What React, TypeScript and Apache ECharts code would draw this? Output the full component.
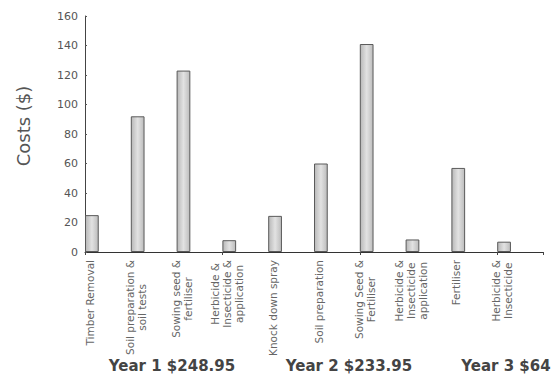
import React, { useEffect, useRef } from "react";
import * as echarts from "echarts";

// Cost items per activity, in order across the three years
const categories: string[] = [
  "Timber Removal",
  "Soil preparation &\nsoil tests",
  "Sowing seed &\nfertiliser",
  "Herbicide &\nInsecticide &\napplication",
  "Knock down spray",
  "Soil preparation",
  "Sowing Seed &\nFertiliser",
  "Herbicide &\nInsecticide\napplication",
  "Fertiliser",
  "Herbicide &\nInsecticide",
];

const costs: number[] = [25, 92, 123, 8, 24.5, 60, 141, 8.5, 57, 7];

const yTicks = { min: 0, max: 160, interval: 20 };

const yearLabels: string[] = ["Year 1 $248.95", "Year 2 $233.95", "Year 3 $64"];

const FONT = "DejaVu Sans";

export default function App() {
  const ref = useRef<HTMLDivElement>(null);

  useEffect(() => {
    if (!ref.current) return;
    const chart = echarts.init(ref.current, undefined, { renderer: "svg" });

    const barFill = new echarts.graphic.LinearGradient(0, 0, 1, 0, [
      { offset: 0, color: "#b8b8b8" },
      { offset: 0.5, color: "#e2e2e2" },
      { offset: 1, color: "#bcbcbc" },
    ]);

    const yearPos = [172, 349, 506];

    chart.setOption({
      animation: false,
      backgroundColor: "#ffffff",
      grid: [
        { left: 85, right: 13, top: 16, bottom: 127 },
        // label grid, shifted so the category names sit under the bars
        { left: 67, right: 31, top: 16, bottom: 127 },
      ],
      xAxis: [
        {
          type: "category",
          gridIndex: 0,
          data: categories,
          boundaryGap: true,
          axisLine: { lineStyle: { color: "#333", width: 1 } },
          axisTick: { show: true, length: 3, lineStyle: { color: "#444" } },
          axisLabel: { show: false },
          splitLine: { show: false },
        },
        {
          type: "category",
          gridIndex: 1,
          data: categories,
          axisLine: { show: false },
          axisTick: { show: false },
          splitLine: { show: false },
          axisLabel: {
            rotate: 90,
            interval: 0,
            margin: 8,
            formatter: (v: string) =>
              v
                .split("\n")
                .map((l) => `{c|${l}}`)
                .join("\n"),
            rich: {
              c: {
                align: "center",
                fontFamily: FONT,
                fontSize: 10.5,
                lineHeight: 12,
                color: "#666",
              },
            },
          },
        },
      ],
      yAxis: [
        {
          type: "value",
          gridIndex: 0,
          min: yTicks.min,
          max: yTicks.max,
          interval: yTicks.interval,
          name: "Costs ($)",
          nameLocation: "middle",
          nameRotate: 90,
          nameGap: 53,
          nameTextStyle: {
            fontFamily: FONT,
            fontSize: 18,
            color: "#555",
            padding: [0, 0, 0, 16],
          },
          axisLine: { show: true, lineStyle: { color: "#444", width: 1 } },
          axisTick: { show: true, inside: true, length: 2, lineStyle: { color: "#555" } },
          axisLabel: { fontFamily: FONT, fontSize: 11, color: "#555", margin: 7 },
          splitLine: { show: false },
        },
        { type: "value", gridIndex: 1, show: false, min: 0, max: 160 },
      ],
      series: [
        {
          type: "bar",
          xAxisIndex: 0,
          yAxisIndex: 0,
          data: costs,
          barWidth: "30%",
          barGap: "0%",
          barCategoryGap: "0%",
          itemStyle: { color: barFill, borderColor: "#5a5a5a", borderWidth: 1 },
        },
        {
          // empty companion series keeps each bar at the left of its band
          type: "bar",
          xAxisIndex: 0,
          yAxisIndex: 0,
          data: categories.map(() => null),
          barWidth: "70%",
          barGap: "0%",
          barCategoryGap: "0%",
          itemStyle: { color: "transparent" },
          silent: true,
        },
      ],
      graphic: yearLabels.map((t, i) => ({
        type: "text",
        x: yearPos[i],
        y: 366,
        style: {
          text: t,
          fontFamily: FONT,
          fontSize: 15,
          fontWeight: "bold",
          fill: "#444",
          align: "center",
          verticalAlign: "middle",
        },
      })),
    });

    return () => chart.dispose();
  }, []);

  return (
    <div
      ref={ref}
      style={{ position: "fixed", left: 0, top: 0, width: 556, height: 379 }}
    />
  );
}
